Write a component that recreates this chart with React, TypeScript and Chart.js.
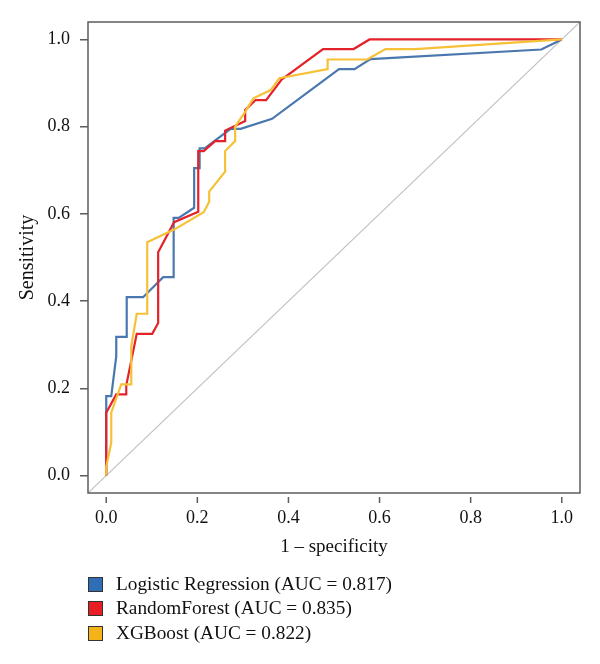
import React, { useEffect, useRef } from "react";
import { Chart, registerables } from "chart.js";

Chart.register(...registerables);

// ROC curve coordinates: false positive rate (1 - specificity) and sensitivity
const LR_FPR = [0, 0, 0.011, 0.022, 0.022, 0.045, 0.045, 0.081, 0.125, 0.148, 0.148, 0.159, 0.193, 0.193, 0.205, 0.205, 0.216, 0.273, 0.295, 0.364, 0.511, 0.545, 0.58, 0.955, 1];
const LR_TPR = [0, 0.182, 0.182, 0.273, 0.318, 0.318, 0.409, 0.409, 0.455, 0.455, 0.591, 0.591, 0.614, 0.705, 0.705, 0.75, 0.75, 0.795, 0.795, 0.818, 0.932, 0.932, 0.955, 0.977, 1];

const RF_FPR = [0, 0, 0.022, 0.044, 0.044, 0.067, 0.101, 0.114, 0.114, 0.149, 0.202, 0.202, 0.214, 0.239, 0.261, 0.261, 0.305, 0.305, 0.328, 0.351, 0.385, 0.476, 0.543, 0.578, 1];
const RF_TPR = [0, 0.144, 0.186, 0.186, 0.207, 0.325, 0.325, 0.35, 0.512, 0.581, 0.605, 0.744, 0.744, 0.767, 0.767, 0.791, 0.813, 0.838, 0.861, 0.861, 0.908, 0.978, 0.978, 1, 1];

const XGB_FPR = [0, 0, 0.011, 0.011, 0.033, 0.055, 0.055, 0.067, 0.09, 0.09, 0.149, 0.214, 0.226, 0.226, 0.261, 0.261, 0.283, 0.283, 0.305, 0.323, 0.361, 0.38, 0.486, 0.486, 0.573, 0.613, 0.679, 1];
const XGB_TPR = [0, 0.02, 0.075, 0.144, 0.209, 0.209, 0.297, 0.371, 0.371, 0.535, 0.564, 0.604, 0.628, 0.651, 0.697, 0.744, 0.767, 0.8, 0.834, 0.865, 0.884, 0.911, 0.932, 0.954, 0.954, 0.978, 0.978, 1];

const MODEL_NAMES = ["Logistic Regression", "RandomForest", "XGBoost"];
const MODEL_AUC = [0.817, 0.835, 0.822];

const AXIS_TICKS = [0, 0.2, 0.4, 0.6, 0.8, 1.0];
const CHANCE_LINE = [-0.04, 1.04];

const LINE_COLORS = ["#4a78ae", "#e4222a", "#f6c136"];
const SWATCH_COLORS = ["#2f6db5", "#e81e25", "#f5b31a"];

const FONT_FAMILY = "'Liberation Serif', 'Times New Roman', serif";

const toPoints = (xs: number[], ys: number[]) => xs.map((x, i) => ({ x, y: ys[i] }));

const framePlugin = {
  id: "frame",
  afterDraw(chart: any) {
    const { ctx, chartArea, scales } = chart;
    const { left, top, right, bottom } = chartArea;
    ctx.save();
    ctx.strokeStyle = "#5c5c5c";
    ctx.lineWidth = 1.5;
    ctx.strokeRect(left, top, right - left, bottom - top);
    // x-axis tick marks sit just below the frame
    AXIS_TICKS.forEach((v) => {
      const px = scales.x.getPixelForValue(v);
      ctx.beginPath();
      ctx.moveTo(px, bottom + 4);
      ctx.lineTo(px, bottom + 10);
      ctx.stroke();
    });
    ctx.restore();
  },
};

function RocChart() {
  const canvasRef = useRef<HTMLCanvasElement | null>(null);

  useEffect(() => {
    const canvas = canvasRef.current;
    if (!canvas) return;

    const curve = (idx: number, xs: number[], ys: number[]) => ({
      label: `${MODEL_NAMES[idx]} (AUC = ${MODEL_AUC[idx].toFixed(3)})`,
      data: toPoints(xs, ys),
      borderColor: LINE_COLORS[idx],
      backgroundColor: LINE_COLORS[idx],
      borderWidth: 2.2,
      pointRadius: 0,
      showLine: true,
      tension: 0,
      fill: false,
    });

    const chart = new Chart(canvas, {
      type: "scatter",
      data: {
        datasets: [
          curve(2, XGB_FPR, XGB_TPR),
          curve(1, RF_FPR, RF_TPR),
          curve(0, LR_FPR, LR_TPR),
          {
            label: "chance",
            data: toPoints(CHANCE_LINE, CHANCE_LINE),
            borderColor: "#c2c2c2",
            borderWidth: 1.2,
            pointRadius: 0,
            showLine: true,
            fill: false,
          },
        ],
      },
      options: {
        responsive: false,
        animation: false,
        layout: { padding: { top: 22, right: 20, left: 0, bottom: 0 } },
        plugins: {
          legend: { display: false },
          tooltip: { enabled: false },
        },
        scales: {
          x: {
            type: "linear",
            min: -0.04,
            max: 1.04,
            afterBuildTicks: (s: any) => {
              s.ticks = AXIS_TICKS.map((v) => ({ value: v }));
            },
            afterFit: (s: any) => {
              s.height = 171;
            },
            border: { display: false },
            grid: { display: true, drawOnChartArea: false, drawTicks: false },
            ticks: {
              padding: 14,
              color: "#111",
              font: { family: FONT_FAMILY, size: 18 },
              maxRotation: 0,
              callback: (v: any) => Number(v).toFixed(1),
            },
            title: {
              display: true,
              text: "1 \u2013 specificity",
              color: "#111",
              font: { family: FONT_FAMILY, size: 19 },
              padding: { top: 0, bottom: 106 },
            },
          },
          y: {
            type: "linear",
            min: -0.04,
            max: 1.04,
            afterBuildTicks: (s: any) => {
              s.ticks = AXIS_TICKS.map((v) => ({ value: v }));
            },
            afterFit: (s: any) => {
              s.width = 88;
            },
            border: { display: false },
            grid: {
              display: true,
              drawOnChartArea: false,
              drawTicks: true,
              tickLength: 8,
              color: "#5c5c5c",
              lineWidth: 1.5,
            },
            ticks: {
              padding: 10,
              color: "#111",
              font: { family: FONT_FAMILY, size: 18 },
              callback: (v: any) => Number(v).toFixed(1),
            },
            title: {
              display: true,
              text: "Sensitivity",
              color: "#111",
              font: { family: FONT_FAMILY, size: 20 },
              padding: { top: 16, bottom: 0 },
            },
          },
        },
      },
      plugins: [framePlugin],
    });

    return () => chart.destroy();
  }, []);

  return <canvas ref={canvasRef} width={600} height={664} style={{ display: "block" }} />;
}

const LEGEND_ROW_TOPS = [572, 596, 621];

export default function App() {
  return (
    <div style={{ position: "absolute", left: 0, top: 0, width: 600, height: 664, background: "#fff" }}>
      <RocChart />
      {MODEL_NAMES.map((name, i) => (
        <div
          key={name}
          style={{
            position: "absolute",
            left: 88,
            top: LEGEND_ROW_TOPS[i],
            height: 24,
            display: "flex",
            alignItems: "center",
            fontFamily: FONT_FAMILY,
            fontSize: 19.3,
            color: "#111",
            whiteSpace: "nowrap",
          }}
        >
          <span
            style={{
              display: "inline-block",
              width: 13,
              height: 13,
              background: SWATCH_COLORS[i],
              border: "1px solid #333",
              marginRight: 13,
            }}
          />
          <span>{`${name} (AUC = ${MODEL_AUC[i].toFixed(3)})`}</span>
        </div>
      ))}
    </div>
  );
}
